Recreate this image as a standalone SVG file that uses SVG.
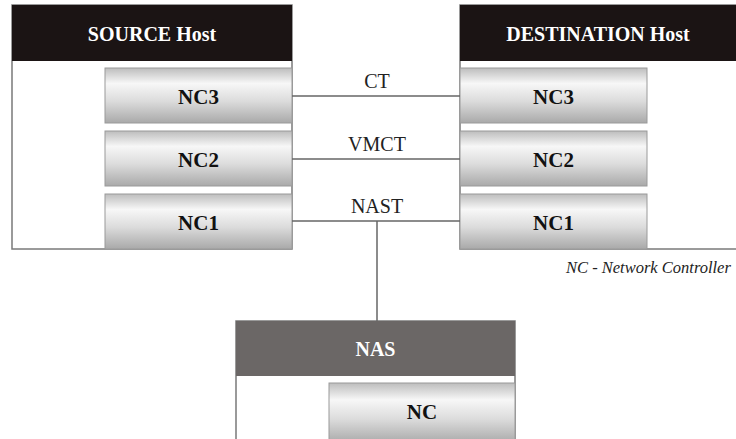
<svg xmlns="http://www.w3.org/2000/svg" width="736" height="439" viewBox="0 0 736 439">
<defs>
<linearGradient id="cyl" x1="0" y1="0" x2="0" y2="1">
<stop offset="0" stop-color="#bdbdbd"/>
<stop offset="0.28" stop-color="#f7f7f7"/>
<stop offset="0.6" stop-color="#dcdcdc"/>
<stop offset="1" stop-color="#a9a9a9"/>
</linearGradient>
</defs>
<style>
text{font-family:'Liberation Serif','Times New Roman','DejaVu Serif',serif}
.box{fill:#fff;stroke:#7a7a7a;stroke-width:1.5}
.hdr{fill:#1b1414}
.nashdr{fill:#6b6766}
.nc{fill:url(#cyl);stroke:#9a9a9a;stroke-width:1}
.ht{font-weight:bold;font-size:20px;fill:#fff;text-anchor:middle}
.nt{font-weight:bold;font-size:21px;fill:#111;text-anchor:middle}
.lt{font-size:20px;fill:#222;text-anchor:middle}
.it{font-style:italic;font-size:16.5px;fill:#222}
.ln{stroke:#666;stroke-width:1.5;fill:none}
</style>
<g id="source-host">
<rect class="box" x="12" y="5" width="280" height="244"/>
<rect class="hdr" x="12" y="5" width="280" height="56"/>
<text class="ht" x="152" y="41" font-family="Liberation Serif, serif">SOURCE Host</text>
</g>
<g id="src-nc3"><rect class="nc" x="105" y="68" width="187" height="55"/><text class="nt" x="198.5" y="104" font-family="Liberation Serif, serif">NC3</text></g>
<g id="src-nc2"><rect class="nc" x="105" y="131" width="187" height="55"/><text class="nt" x="198.5" y="167" font-family="Liberation Serif, serif">NC2</text></g>
<g id="src-nc1"><rect class="nc" x="105" y="194" width="187" height="55"/><text class="nt" x="198.5" y="230" font-family="Liberation Serif, serif">NC1</text></g>
<g id="destination-host">
<rect class="box" x="460" y="5" width="290" height="244"/>
<rect class="hdr" x="460" y="5" width="290" height="56"/>
<text class="ht" x="598" y="41" font-family="Liberation Serif, serif">DESTINATION Host</text>
</g>
<g id="dst-nc3"><rect class="nc" x="460" y="68" width="187" height="55"/><text class="nt" x="553.5" y="104" font-family="Liberation Serif, serif">NC3</text></g>
<g id="dst-nc2"><rect class="nc" x="460" y="131" width="187" height="55"/><text class="nt" x="553.5" y="167" font-family="Liberation Serif, serif">NC2</text></g>
<g id="dst-nc1"><rect class="nc" x="460" y="194" width="187" height="55"/><text class="nt" x="553.5" y="230" font-family="Liberation Serif, serif">NC1</text></g>
<g id="nas">
<rect class="box" x="236" y="321" width="279" height="125"/>
<rect class="nashdr" x="236" y="321" width="279" height="55"/>
<text class="ht" x="375.5" y="356" font-family="Liberation Serif, serif">NAS</text>
</g>
<g id="nas-nc"><rect class="nc" x="329" y="383" width="186" height="60"/><text class="nt" x="422" y="419" font-family="Liberation Serif, serif">NC</text></g>
<g id="connectors">
<line class="ln" x1="292" y1="96" x2="460" y2="96"/>
<line class="ln" x1="292" y1="159" x2="460" y2="159"/>
<line class="ln" x1="292" y1="221" x2="460" y2="221"/>
<line class="ln" x1="377" y1="221" x2="377" y2="321"/>
<text class="lt" x="377" y="88" font-family="Liberation Serif, serif">CT</text>
<text class="lt" x="377" y="151" font-family="Liberation Serif, serif">VMCT</text>
<text class="lt" x="377" y="213" font-family="Liberation Serif, serif">NAST</text>
</g>
<text class="it" x="566" y="273" font-family="Liberation Serif, serif">NC - Network Controller</text>
</svg>
